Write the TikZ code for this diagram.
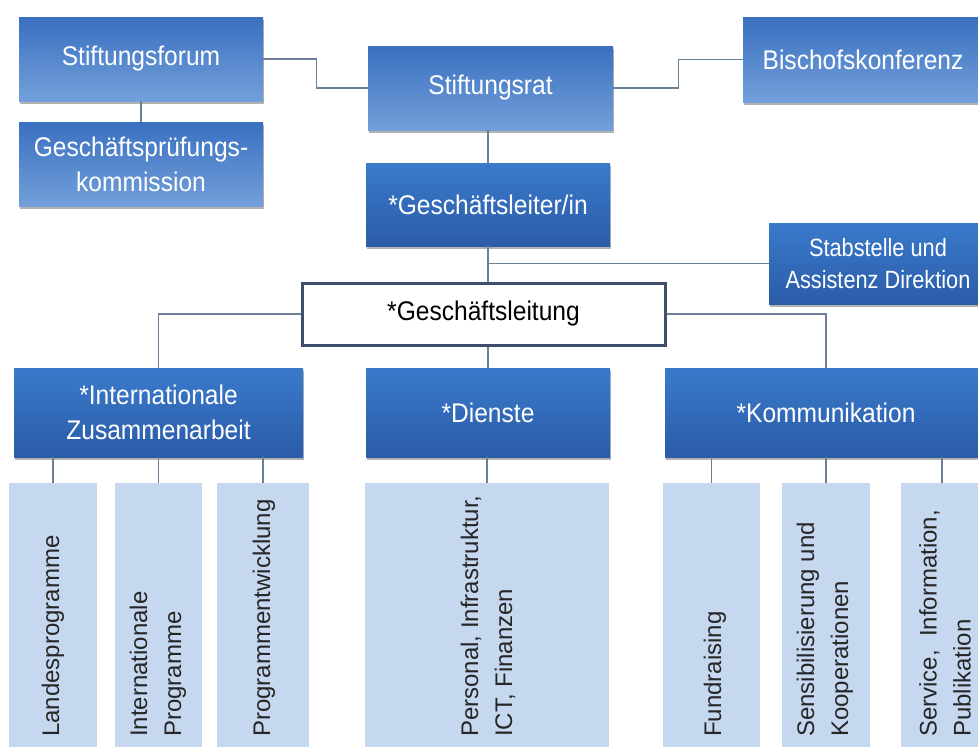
\documentclass[tikz,border=0pt]{standalone}
\usepackage{fontspec}
\setmainfont{Liberation Sans}
\newfontfamily\condfont[FakeStretch=0.91]{Liberation Sans}
\newfontfamily\narrowfont[FakeStretch=0.87]{Liberation Sans}
\usetikzlibrary{shadows}
\definecolor{ltop}{HTML}{3A70C0}
\definecolor{lbot}{HTML}{73A0DA}
\definecolor{dtop}{HTML}{3A7ACB}
\definecolor{dbot}{HTML}{2B5CA8}
\definecolor{subfill}{HTML}{C6D8EF}
\definecolor{linec}{HTML}{6B7F99}
\definecolor{frame}{HTML}{3F4E6B}
\tikzset{
  boxbase/.style={rectangle, inner sep=0pt, align=center, text=white,
    font={\condfont\fontsize{27}{35}\selectfont},
    drop shadow={shadow xshift=1pt, shadow yshift=-2.5pt, opacity=0.3, fill=black}},
  lightbox/.style={boxbase, top color=ltop, bottom color=lbot},
  darkbox/.style={boxbase, top color=dtop, bottom color=dbot},
  whitebox/.style={rectangle, inner sep=0pt, fill=white, draw=frame, line width=3pt,
    font={\condfont\fontsize{27}{35}\selectfont}, text=black},
  subbox/.style={rectangle, inner sep=0pt, fill=subfill, draw=none},
  subtext/.style={rotate=90, anchor=west, inner sep=0pt, align=left, text=black!85,
    font={\fontsize{24}{34}\selectfont}},
  conn/.style={draw=linec, line width=1.2pt}
}
\begin{document}
\begin{tikzpicture}[x=1pt,y=-1pt]
\useasboundingbox (0,0) rectangle (978,747);
\clip (0,0) rectangle (978,747);
\fill[white] (0,0) rectangle (978,747);

% top level
\node[lightbox, minimum width=244pt, minimum height=84pt] (sf) at (141,59) {Stiftungsforum};
\node[lightbox, minimum width=244pt, minimum height=84pt] (gpk) at (141,164) {Geschäftsprüfungs-\\kommission};
\node[lightbox, minimum width=245pt, minimum height=84pt] (rat) at (490.5,88) {Stiftungsrat};
\node[lightbox, minimum width=240pt, minimum height=85pt] (bk) at (863,59.5) {Bischofskonferenz};
\node[darkbox, minimum width=244pt, minimum height=83pt] (gl) at (488,204.5) {*Geschäftsleiter/in};
\node[darkbox, minimum width=218pt, minimum height=81pt, font={\narrowfont\fontsize{25}{32}\selectfont}] (stab) at (878,263.5) {Stabstelle und\\Assistenz Direktion};
\node[whitebox, minimum width=363pt, minimum height=62pt] (gle) at (483.5,314) {*Geschäftsleitung};

% departments
\node[darkbox, minimum width=289pt, minimum height=89pt] (iz) at (158.5,412.5) {*Internationale\\Zusammenarbeit};
\node[darkbox, minimum width=244pt, minimum height=89pt] (di) at (488,412.5) {*Dienste};
\node[darkbox, minimum width=322pt, minimum height=89pt] (ko) at (826,412.5) {*Kommunikation};

% sub units
\node[subbox, minimum width=88pt, minimum height=280pt] (b1) at (53,623) {};
\node[subbox, minimum width=87pt, minimum height=280pt] (b2) at (158.5,623) {};
\node[subbox, minimum width=92pt, minimum height=280pt] (b3) at (263,623) {};
\node[subbox, minimum width=244pt, minimum height=280pt] (b4) at (487,623) {};
\node[subbox, minimum width=97pt, minimum height=280pt] (b5) at (711.5,623) {};
\node[subbox, minimum width=88pt, minimum height=280pt] (b6) at (826,623) {};
\node[subbox, minimum width=82pt, minimum height=280pt] (b7) at (942,623) {};

\node[subtext] (t1) at (53,737) {Landesprogramme};
\node[subtext] (t2) at (158,737) {Internationale\\Programme};
\node[subtext] (t3) at (264,737) {Programmentwicklung};
\node[subtext] (t4) at (488,737) {Personal, Infrastruktur,\\ICT, Finanzen};
\node[subtext] (t5) at (715,737) {Fundraising};
\node[subtext] (t6) at (825,737) {Sensibilisierung und\\Kooperationen};
\node[subtext] (t7) at (945,737) {Service,\ \ Information,\\Publikation};

% connectors
\draw[conn] (sf.east) -- ++(53,0) |- (rat.west);
\draw[conn] (rat.east) -- ++(65,0) |- (bk.west);
\draw[conn] (sf.south) -- (gpk.north);
\draw[conn] (gl.north) -- (gl.north |- rat.south);
\draw[conn] (gl.south) -- (gl.south |- gle.north);
\draw[conn] (stab.west) -- (stab.west -| gl.south);
\draw[conn] (gle.west) -| (iz.north);
\draw[conn] (di.north) -- (di.north |- gle.south);
\draw[conn] (gle.east) -| (ko.north);
\draw[conn] (b1.north) -- (b1.north |- iz.south);
\draw[conn] (b2.north) -- (b2.north |- iz.south);
\draw[conn] (b3.north) -- (b3.north |- iz.south);
\draw[conn] (b4.north) -- (b4.north |- di.south);
\draw[conn] (b5.north) -- (b5.north |- ko.south);
\draw[conn] (b6.north) -- (b6.north |- ko.south);
\draw[conn] (b7.north) -- (b7.north |- ko.south);
\end{tikzpicture}
\end{document}
